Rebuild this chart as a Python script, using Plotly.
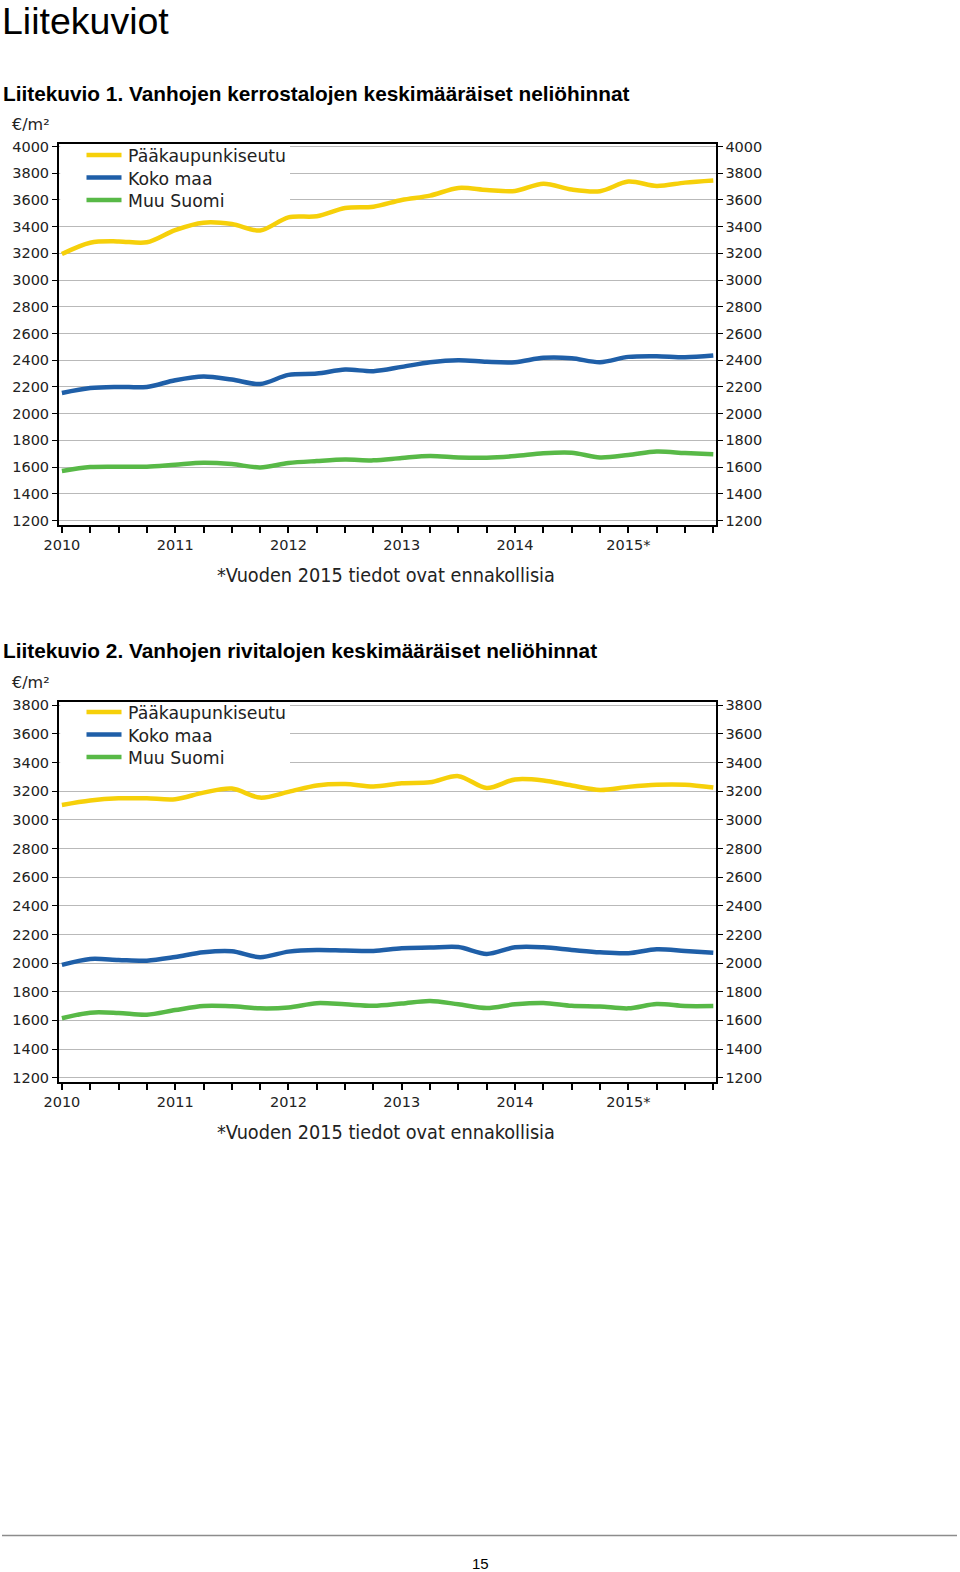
import plotly.graph_objects as go

# ---------------- data ----------------
quarters = ["2010Q1", "2010Q2", "2010Q3", "2010Q4",
            "2011Q1", "2011Q2", "2011Q3", "2011Q4",
            "2012Q1", "2012Q2", "2012Q3", "2012Q4",
            "2013Q1", "2013Q2", "2013Q3", "2013Q4",
            "2014Q1", "2014Q2", "2014Q3", "2014Q4",
            "2015Q1", "2015Q2", "2015Q3", "2015Q4"]

series_names = ["Pääkaupunkiseutu", "Koko maa", "Muu Suomi"]

# Liitekuvio 1: kerrostalot (€/m²)
kerros_paak = [3195, 3280, 3290, 3283, 3375, 3430, 3420, 3372,
               3470, 3478, 3540, 3550, 3600, 3633, 3690, 3675,
               3668, 3722, 3678, 3666, 3738, 3705, 3730, 3746]
kerros_koko = [2155, 2192, 2200, 2200, 2250, 2278, 2255, 2222,
               2290, 2300, 2330, 2318, 2350, 2385, 2400, 2388,
               2385, 2418, 2415, 2385, 2425, 2430, 2422, 2435]
kerros_muu = [1570, 1600, 1603, 1603, 1618, 1632, 1622, 1597,
              1630, 1645, 1656, 1650, 1668, 1683, 1672, 1670,
              1682, 1703, 1707, 1672, 1690, 1716, 1705, 1696]

# Liitekuvio 2: rivitalot (€/m²)
rivi_paak = [3104, 3135, 3150, 3150, 3144, 3190, 3218, 3155,
             3195, 3240, 3250, 3233, 3255, 3262, 3305, 3222,
             3282, 3275, 3240, 3209, 3230, 3244, 3244, 3225]
rivi_koko = [1987, 2029, 2022, 2017, 2042, 2075, 2082, 2041,
             2080, 2092, 2088, 2085, 2104, 2108, 2112, 2064,
             2110, 2110, 2092, 2075, 2069, 2097, 2085, 2073]
rivi_muu = [1615, 1654, 1652, 1640, 1672, 1700, 1698, 1684,
            1690, 1720, 1712, 1702, 1718, 1736, 1712, 1686,
            1712, 1722, 1702, 1697, 1684, 1714, 1700, 1700]

year_labels = ["2010", "2011", "2012", "2013", "2014", "2015*"]
y_ticks_1 = list(range(1200, 4001, 200))
y_ticks_2 = list(range(1200, 3801, 200))

# ---------------- styling ----------------
W, H = 960, 1572
COLORS = ["#F6D00A", "#1F5FA8", "#58B947"]
TICKFONT = dict(family="DejaVu Sans", size=14.5, color="#222222")
GRID = "#b9b9b9"


def px_x(p):
    return p / W


def px_y(p):
    return 1 - p / H


xq = [int(q[:4]) + (int(q[-1]) - 1) / 4 for q in quarters]
xtext = []
yi = 0
for q in quarters:
    if q.endswith("Q1"):
        xtext.append(year_labels[yi])
        yi += 1
    else:
        xtext.append("")

fig = go.Figure()

charts = [
    dict(series=[kerros_paak, kerros_koko, kerros_muu], ticks=y_ticks_1,
         yrange=[1166, 4023], top=143.5, bottom=525, off=0,
         title="Liitekuvio 1. Vanhojen kerrostalojen keskimääräiset neliöhinnat"),
    dict(series=[rivi_paak, rivi_koko, rivi_muu], ticks=y_ticks_2,
         yrange=[1172, 3826], top=701.5, bottom=1081.7, off=557,
         title="Liitekuvio 2. Vanhojen rivitalojen keskimääräiset neliöhinnat"),
]

x_left, x_right = 59, 715.5
xrange = [2010 - 2.9 / 113.3, 2015.75 + 2.2 / 113.3]

for ci, ch in enumerate(charts):
    n = ci + 1
    xa = "x" if n == 1 else "x2"
    ya = "y" if n == 1 else "y2"
    yr = "y3" if n == 1 else "y4"
    for si, (name, vals) in enumerate(zip(series_names, ch["series"])):
        fig.add_trace(go.Scatter(
            x=xq, y=vals, name=name, mode="lines", showlegend=False,
            line=dict(color=COLORS[si], width=4.5, shape="spline", smoothing=0.9),
            xaxis=xa, yaxis=ya, hoverinfo="skip"))
    # invisible trace carrying the right-hand axis
    fig.add_trace(go.Scatter(
        x=xq, y=ch["series"][0], mode="lines", opacity=0, showlegend=False,
        line=dict(width=0), xaxis=xa, yaxis=yr, hoverinfo="skip"))

    dom_y = [px_y(ch["bottom"]), px_y(ch["top"])]
    xkey = "xaxis" if n == 1 else "xaxis2"
    ykey = "yaxis" if n == 1 else "yaxis2"
    rkey = "yaxis3" if n == 1 else "yaxis4"
    fig.update_layout(**{
        xkey: dict(domain=[px_x(x_left), px_x(x_right)], anchor=ya,
                   range=xrange, tickmode="array", tickvals=xq, ticktext=xtext,
                   ticks="outside", ticklen=6, tickwidth=1.5, tickcolor="black",
                   showline=True, linecolor="black", linewidth=2, mirror=True,
                   showgrid=False, zeroline=False, tickfont=TICKFONT),
        ykey: dict(domain=dom_y, anchor=xa, range=ch["yrange"],
                   tickmode="array", tickvals=ch["ticks"],
                   ticks="outside", ticklen=5, tickwidth=1.2, tickcolor="black",
                   showline=True, linecolor="black", linewidth=2, mirror=True,
                   showgrid=True, gridcolor=GRID, gridwidth=1.2,
                   zeroline=False, tickfont=TICKFONT),
        rkey: dict(overlaying=ya, anchor=xa, side="right", range=ch["yrange"],
                   tickmode="array", tickvals=ch["ticks"],
                   ticks="outside", ticklen=5, tickwidth=1.2, tickcolor="black",
                   showline=True, linecolor="black", linewidth=2,
                   showgrid=False, zeroline=False, tickfont=TICKFONT),
    })

    # legend background (hides gridlines behind legend; no data in this area)
    fig.add_shape(type="rect", xref="paper", yref="paper",
                  x0=px_x(60.2), x1=px_x(290),
                  y0=px_y(206 + ch["off"]), y1=px_y(ch["top"] + 1.2),
                  fillcolor="white", line=dict(width=0), layer="above")

    # legend: line samples + labels
    for si, name in enumerate(series_names):
        ly = [155, 177.5, 200][si] + ch["off"]
        fig.add_shape(type="line", xref="paper", yref="paper",
                      x0=px_x(86.5), x1=px_x(121.5), y0=px_y(ly), y1=px_y(ly),
                      line=dict(color=COLORS[si], width=4.5), layer="above")
        fig.add_annotation(text=name, xref="paper", yref="paper",
                           x=px_x(126), y=px_y(ly + 1), xanchor="left", yanchor="middle",
                           showarrow=False,
                           font=dict(family="DejaVu Sans", size=17.3, color="#222222"))

    # chart title
    fig.add_annotation(text=f"<b>{ch['title']}</b>", xref="paper", yref="paper",
                       x=px_x(1), y=px_y(93.5 + ch["off"]), xanchor="left", yanchor="middle",
                       showarrow=False,
                       font=dict(family="Liberation Sans", size=20.8, color="black"))
    # unit
    fig.add_annotation(text="€/m²", xref="paper", yref="paper",
                       x=px_x(10), y=px_y(125 + ch["off"]), xanchor="left", yanchor="middle",
                       showarrow=False,
                       font=dict(family="DejaVu Sans", size=16, color="#222222"))
    # note
    fig.add_annotation(text="*Vuoden 2015 tiedot ovat ennakollisia", xref="paper", yref="paper",
                       x=px_x(386), y=px_y(575 + ch["off"]), xanchor="center", yanchor="middle",
                       showarrow=False,
                       font=dict(family="DejaVu Sans Condensed, Liberation Sans", size=19.7,
                                 color="#222222"))

# page heading
fig.add_annotation(text="Liitekuviot", xref="paper", yref="paper",
                   x=px_x(0), y=px_y(21.5), xanchor="left", yanchor="middle",
                   showarrow=False,
                   font=dict(family="Liberation Sans", size=37.5, color="black"))
# footer line and page number
fig.add_shape(type="line", xref="paper", yref="paper",
              x0=px_x(2), x1=px_x(957), y0=px_y(1535.5), y1=px_y(1535.5),
              line=dict(color="#8c8c8c", width=1.6))
fig.add_annotation(text="15", xref="paper", yref="paper",
                   x=px_x(480), y=px_y(1563), xanchor="center", yanchor="middle",
                   showarrow=False,
                   font=dict(family="Liberation Sans Narrow, Liberation Sans", size=15,
                             color="black"))

fig.update_layout(width=W, height=H,
                  margin=dict(l=0, r=0, t=0, b=0, pad=0, autoexpand=False),
                  paper_bgcolor="white", plot_bgcolor="white", showlegend=False)

fig.write_html("out.html")
